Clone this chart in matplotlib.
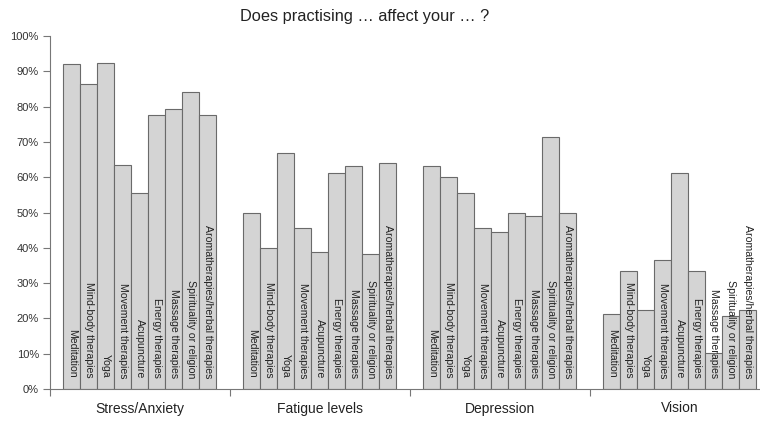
import numpy as np
import matplotlib
matplotlib.use("Agg")
import matplotlib.pyplot as plt

plt.rcParams['font.family'] = ['Liberation Sans', 'DejaVu Sans']

# --- data ---
groups = ["Stress/Anxiety", "Fatigue levels", "Depression", "Vision"]
therapies = ["Meditation", "Mind-body therapies", "Yoga", "Movement therapies",
             "Acupuncture", "Energy therapies", "Massage therapies",
             "Spirituality or religion", "Aromatherapies/herbal therapies"]
stress = [92.0, 86.5, 92.4, 63.5, 55.4, 77.6, 79.4, 84.0, 77.6]
fatigue = [49.9, 40.0, 66.8, 45.5, 38.9, 61.1, 63.3, 38.2, 63.9]
depression = [63.2, 60.1, 55.6, 45.5, 44.4, 50.0, 49.0, 71.5, 50.0]
vision = [21.2, 33.4, 22.3, 36.5, 61.3, 33.4, 10.3, 20.7, 22.3]
series = [stress, fatigue, depression, vision]

# --- layout ---
group_w = 180 / 17.0   # group width in bar units
offset = 13 / 17.0

fig = plt.figure(figsize=(7.6, 4.24), dpi=100)
ax = fig.add_axes([50 / 760, 35 / 424, 720 / 760, 353 / 424])

for g, vals in enumerate(series):
    start = g * group_w + offset
    xs = start + np.arange(len(vals)) + 0.5
    ax.bar(xs, vals, width=1.0, color='#d4d4d4', edgecolor='#6a6a6a', linewidth=0.8)
    for x, name in zip(xs, therapies):
        ax.text(x + 0.02, 3.1, name, rotation=270, ha='center', va='bottom',
                fontsize=7.6, color='#222222')

ax.set_xlim(0, 4 * group_w)
ax.set_ylim(0, 100)

ax.set_yticks(np.arange(0, 101, 10))
ax.set_yticklabels([f"{v}%" for v in range(0, 101, 10)], fontsize=8, color='#333333')

ax.set_xticks([g * group_w for g in range(5)])
ax.set_xticklabels([])
ax.set_xticks([(g + 0.5) * group_w for g in range(4)], minor=True)
ax.set_xticklabels(groups, minor=True, fontsize=10, color='#222222')
ax.tick_params(axis='x', which='minor', length=0, pad=9)
ax.tick_params(axis='x', which='major', length=5, color='#777777', direction='out')
ax.tick_params(axis='y', length=5, color='#777777', direction='out', pad=3)

for s in ['top', 'right']:
    ax.spines[s].set_visible(False)
for s in ['left', 'bottom']:
    ax.spines[s].set_color('#777777')
    ax.spines[s].set_linewidth(0.8)

fig.text(365 / 760, 1 - 17 / 424, "Does practising \u2026 affect your \u2026 ?",
         ha='center', va='center', fontsize=11.75, color='#222222')

fig.savefig("out.png", dpi=100)
